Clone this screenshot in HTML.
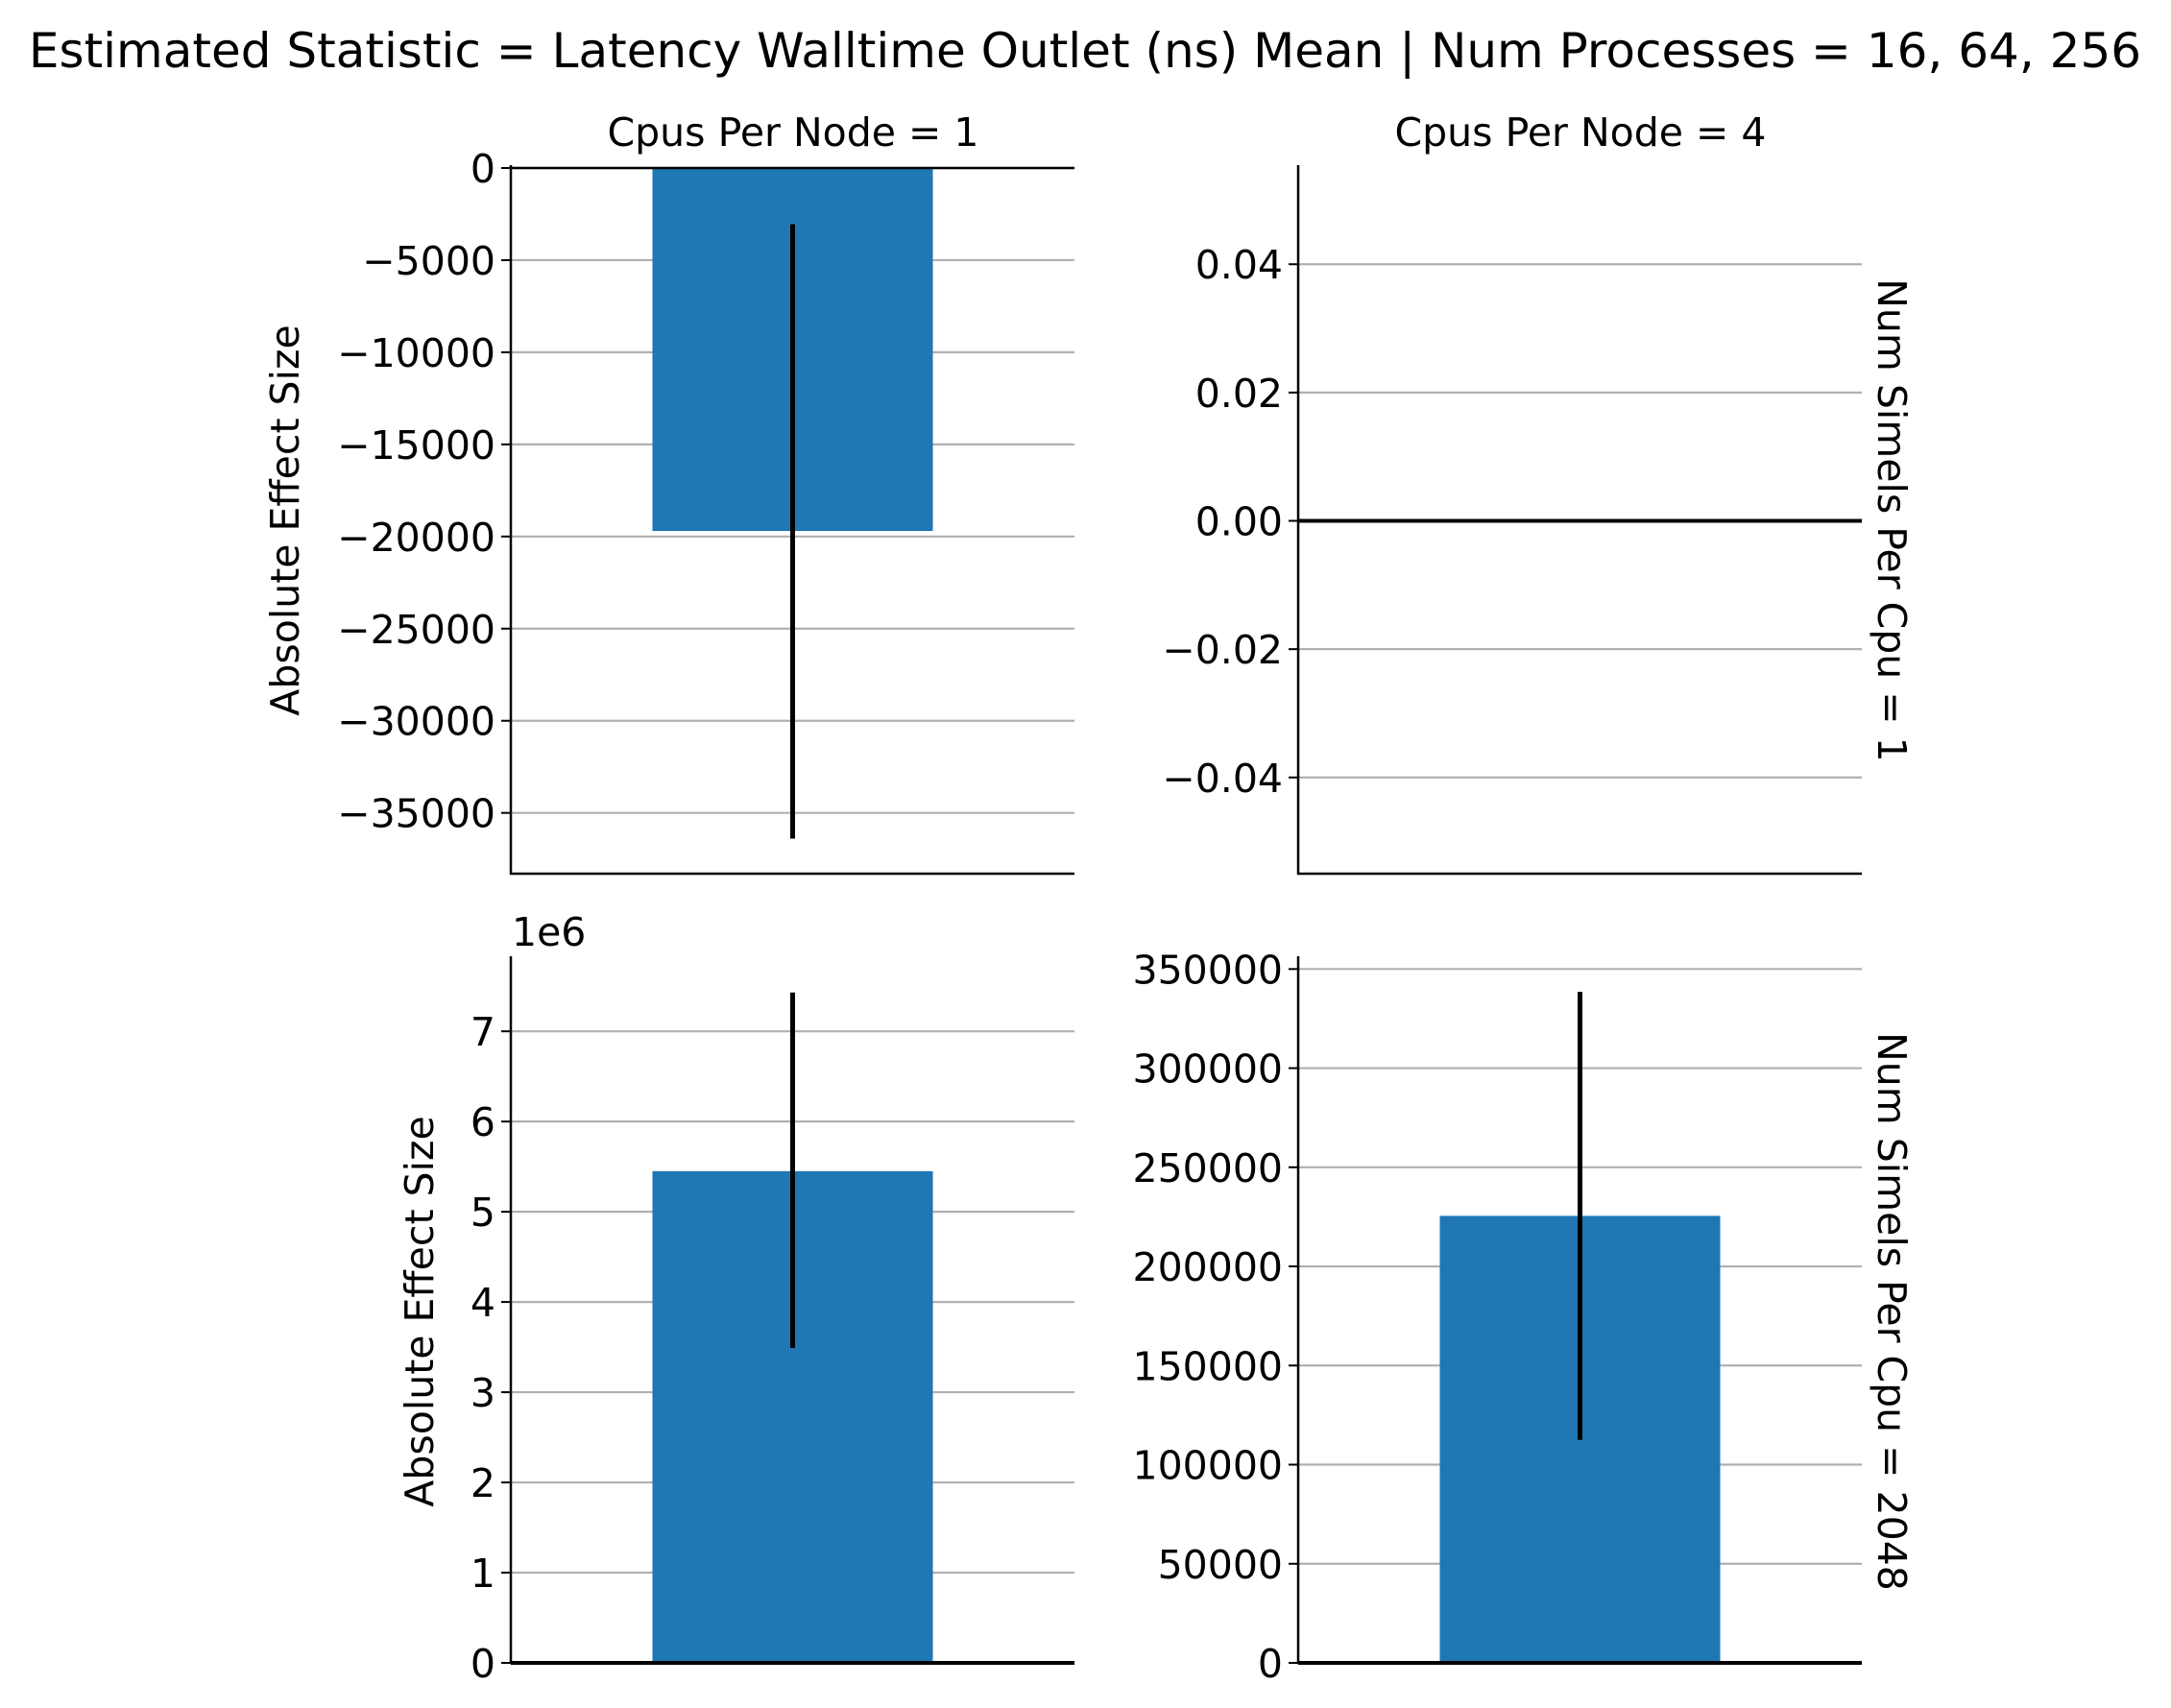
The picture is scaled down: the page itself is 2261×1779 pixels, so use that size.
<!DOCTYPE html>
<html><head><meta charset="utf-8"><style>
body{margin:0;background:#fff}
svg{display:block;font-family:"DejaVu Sans","Liberation Sans",sans-serif}
</style></head><body>
<svg id="chart" width="2261" height="1779" viewBox="0 0 2261 1779" xmlns="http://www.w3.org/2000/svg">
<text x="1130" y="70" font-size="50" text-anchor="middle">Estimated Statistic = Latency Walltime Outlet (ns) Mean | Num Processes = 16, 64, 256</text>
<text x="826" y="152" font-size="41" text-anchor="middle">Cpus Per Node = 1</text>
<text x="1646" y="152" font-size="41" text-anchor="middle">Cpus Per Node = 4</text>
<text transform="translate(1956,542) rotate(90)" font-size="41" text-anchor="middle">Num Simels Per Cpu = 1</text>
<text transform="translate(1956,1366) rotate(90)" font-size="41" text-anchor="middle">Num Simels Per Cpu = 2048</text>
<text transform="translate(311,542) rotate(-90)" font-size="41" text-anchor="middle">Absolute Effect Size</text>
<text transform="translate(451,1366) rotate(-90)" font-size="41" text-anchor="middle">Absolute Effect Size</text>
<text x="533" y="985" font-size="41">1e6</text>
<g id="panels"></g>
</svg>
<script>
const panelNames = ['cpus1-simels1','cpus4-simels1','cpus1-simels2048','cpus4-simels2048'];
const barValues = [-19700, null, 5.45, 225500];
const errLow = [-36400, null, 3.49, 112500];
const errHigh = [-3050, null, 7.43, 338500];
const yMins = [-38300, -0.055, 0, 0];
const yMaxs = [0, 0.055, 7.8, 355000];
const tickVals = [
  [0,-5000,-10000,-15000,-20000,-25000,-30000,-35000],
  [0.04,0.02,0,-0.02,-0.04],
  [0,1,2,3,4,5,6,7],
  [0,50000,100000,150000,200000,250000,300000,350000]
];
const tickLabels = [
  ['0','\u22125000','\u221210000','\u221215000','\u221220000','\u221225000','\u221230000','\u221235000'],
  ['0.04','0.02','0.00','\u22120.02','\u22120.04'],
  ['0','1','2','3','4','5','6','7'],
  ['0','50000','100000','150000','200000','250000','300000','350000']
];
const NS='http://www.w3.org/2000/svg';
const boxes=[[532,1119,175,910],[1352,1939,175,910],[532,1119,999,1732],[1352,1939,999,1732]];
const g=document.getElementById('panels');
function mk(tag,attrs){const e=document.createElementNS(NS,tag);for(const k in attrs)e.setAttribute(k,attrs[k]);g.appendChild(e);return e;}
panelNames.forEach((nm,i)=>{
  const [x0,x1,y0,y1]=boxes[i];
  const y=v=>y1-(v-yMins[i])/(yMaxs[i]-yMins[i])*(y1-y0);
  const xc=(x0+x1)/2, bw=(x1-x0)*0.4975;
  tickVals[i].forEach((v,j)=>{
    const l=mk('line',{x1:x0,x2:x1,y1:y(v),y2:y(v),stroke:'#b0b0b0','stroke-width':2.2});
    
    
    const t=mk('line',{x1:x0-10,x2:x0,y1:y(v),y2:y(v),stroke:'#000','stroke-width':2});
    
    
    const tx=mk('text',{x:x0-16,y:y(v)+15,'font-size':41,'text-anchor':'end'});
    tx.textContent=tickLabels[i][j];
    
    
  });
  if(barValues[i]!==null){
    const v=barValues[i];
    const r=mk('rect',{x:xc-bw/2,width:bw,y:Math.min(y(v),y(0)),height:Math.abs(y(v)-y(0)),fill:'#1f77b4'});
    
    
  }
  const z=mk('line',{x1:x0,x2:x1,y1:y(0),y2:y(0),stroke:'#000','stroke-width':i===0?2.5:4});
  
  
  if(errLow[i]!==null){
    const e=mk('line',{x1:xc,x2:xc,y1:y(errLow[i]),y2:y(errHigh[i]),stroke:'#000','stroke-width':5});
    
    
  }
  const s=mk('path',{d:`M${x0},${y0-3}V${y1}H${x1}`,fill:'none',stroke:'#000','stroke-width':2.5});
  
  
});
</script>
</body></html>
